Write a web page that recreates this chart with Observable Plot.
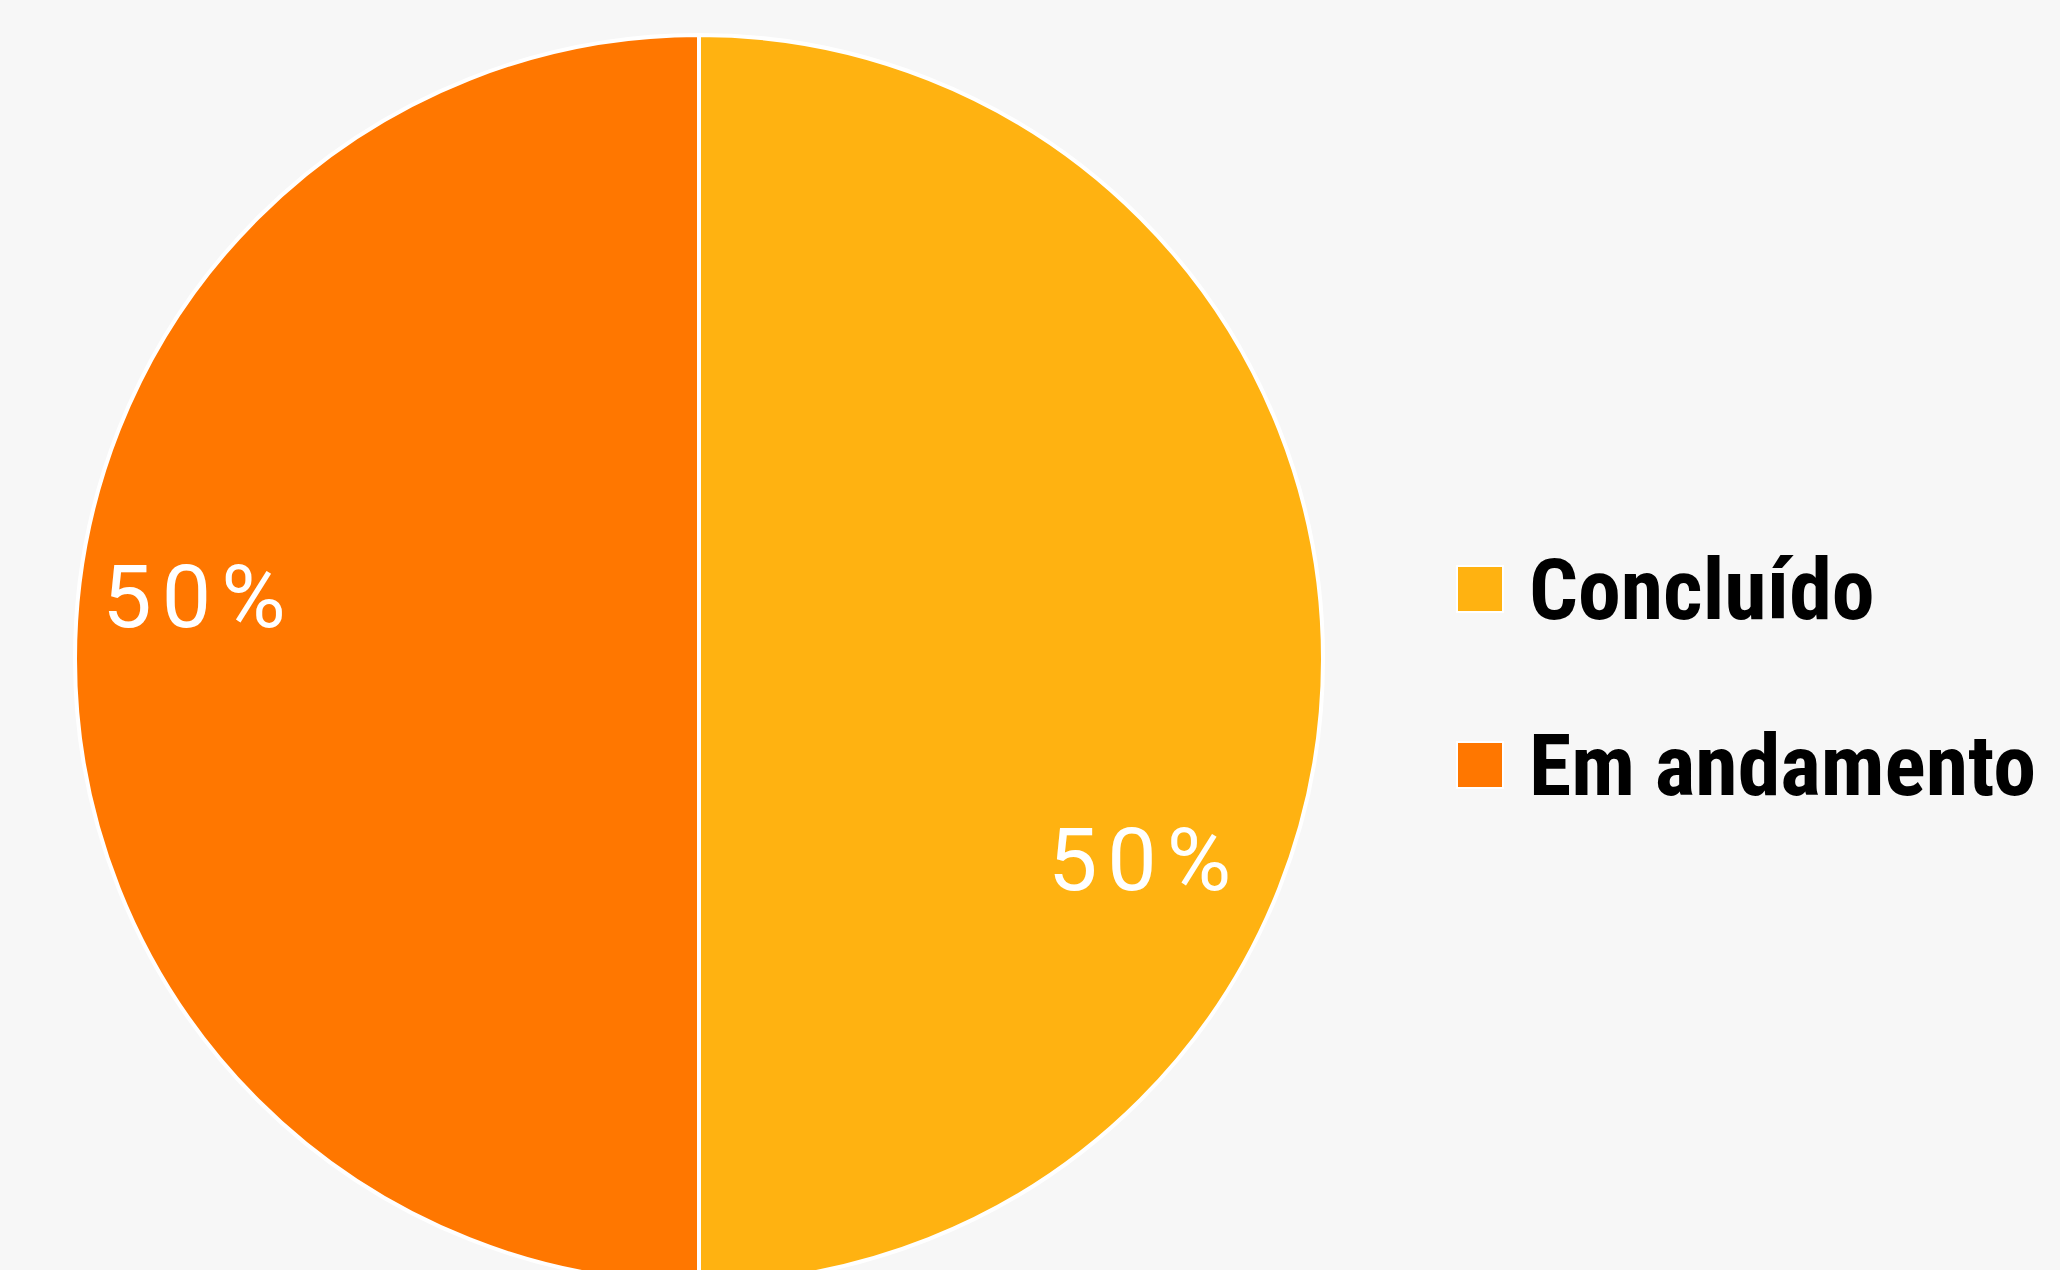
<!DOCTYPE html>
<html>
<head>
<meta charset="utf-8">
<script src="https://cdn.jsdelivr.net/npm/d3@7"></script>
<script src="https://cdn.jsdelivr.net/npm/@observablehq/plot@0.6"></script>
<style>
  html, body { margin: 0; padding: 0; background: #f7f7f7; overflow: hidden; }
  #wrap { position: relative; width: 2060px; height: 1270px; }
  .legend-item { position: absolute; left: 1456px; }
  .swatch { width: 44px; height: 44px; border: 2px solid #ffffff; box-sizing: content-box; }
  .legend-label {
    position: absolute; left: 73px; white-space: nowrap;
    font-family: "Roboto Condensed", "DejaVu Sans Condensed", sans-serif;
    font-weight: 700; font-size: 86px; line-height: 86px; color: #000;
  }
  svg text.pct { font-family: Roboto, sans-serif; }
</style>
</head>
<body>
<div id="wrap"></div>
<script>
// ---- data ----
const categories = ["Concluído", "Em andamento"];
const values = [50, 50];
const colors = ["#FFB211", "#FF7700"];
const labels = ["50%", "50%"];
// label placement: polar angle in degrees (0 = 3 o'clock, counter-clockwise) and radius fraction
const labelAngles = [-24, 172.5];
const labelRadii = [0.772, 0.817];

const data = categories.map((c, i) => ({category: c, value: values[i], color: colors[i], label: labels[i],
  lx: labelRadii[i] * Math.cos(labelAngles[i] * Math.PI / 180),
  ly: labelRadii[i] * Math.sin(labelAngles[i] * Math.PI / 180)}));

const pie = d3.pie().value(d => d.value).sort(null).startAngle(0).endAngle(2 * Math.PI);
const arcs = pie(data);

function pieMark(index, scales) {
  const cx = scales.x(0), cy = scales.y(0);
  const R = Math.abs(scales.x(1) - scales.x(0));
  const arc = d3.arc().innerRadius(0).outerRadius(R);
  const g = d3.create("svg:g").attr("transform", `translate(${cx},${cy})`);
  g.selectAll("path").data(arcs).join("path")
    .attr("d", arc)
    .attr("fill", d => d.data.color)
    .attr("stroke", "#ffffff")
    .attr("stroke-width", 4)
    .attr("stroke-linejoin", "round");
  return g.node();
}

const chart = Plot.plot({
  width: 2060,
  height: 1270,
  margin: 0,
  style: {background: "#f7f7f7", overflow: "hidden", fontFamily: "Roboto, sans-serif"},
  x: {domain: [-1, 1], range: [75, 1323], axis: null},
  y: {domain: [-1, 1], range: [1283, 35], axis: null},
  marks: [
    pieMark,
    Plot.text(data, {
      x: "lx", y: "ly", text: "label",
      fill: "#ffffff", fontSize: 88, fontFamily: "Roboto",
      textAnchor: "middle", lineAnchor: "middle", dx: 5, dy: 6
    })
  ]
});
chart.querySelectorAll("text").forEach(t => {
  t.setAttribute("class", "pct");
  t.style.fontFamily = "Roboto, sans-serif";
  t.setAttribute("letter-spacing", "10");
});

const wrap = document.getElementById("wrap");
wrap.appendChild(chart);

// ---- legend ----
categories.forEach((c, i) => {
  const item = document.createElement("div");
  item.className = "legend-item";
  item.style.top = (565 + i * 176) + "px";
  const sw = document.createElement("div");
  sw.className = "swatch";
  sw.style.background = colors[i];
  const lab = document.createElement("div");
  lab.className = "legend-label";
  lab.style.top = "-18px";
  lab.textContent = c;
  item.appendChild(sw);
  item.appendChild(lab);
  wrap.appendChild(item);
});
</script>
</body>
</html>
